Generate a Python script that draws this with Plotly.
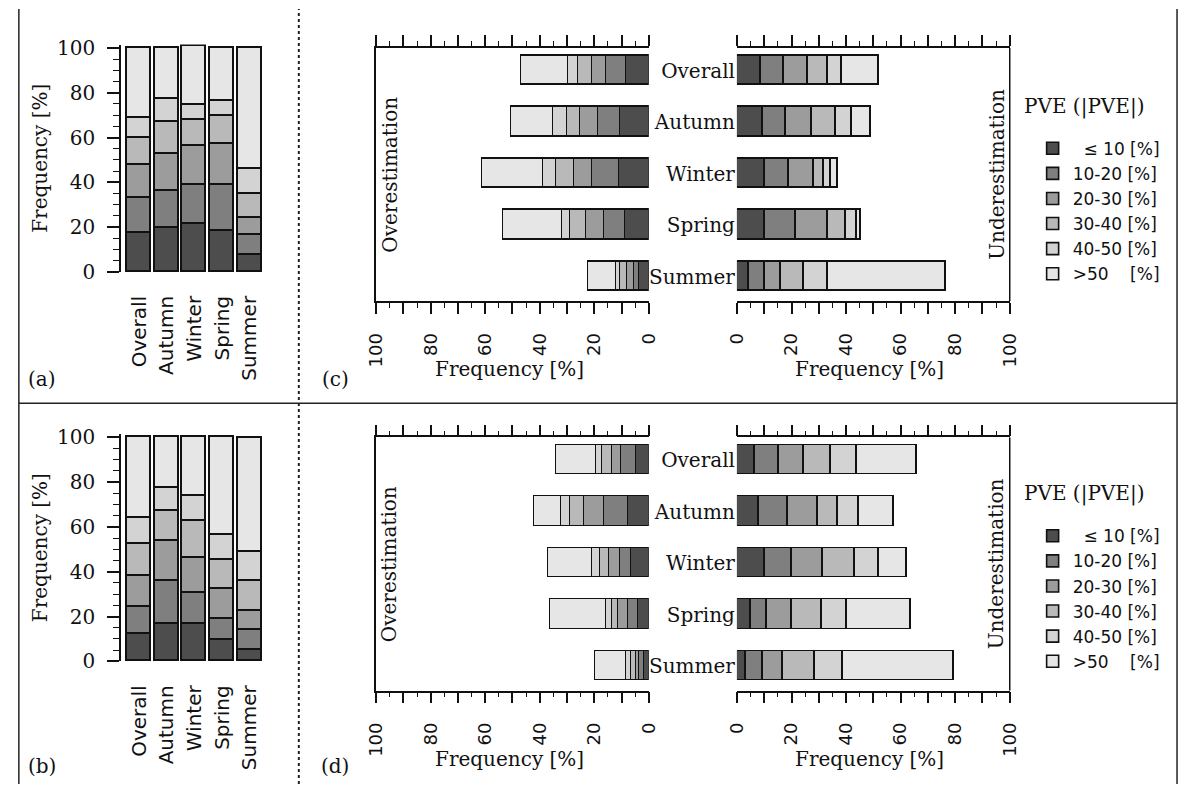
import plotly.graph_objects as go

W, H = 1189, 796
SERIF = "DejaVu Serif"
SANS = "DejaVu Sans"
INK = "#111111"


def fx(p):
    return p / W


def fy(p):
    return 1 - p / H


seasons = ["Overall", "Autumn", "Winter", "Spring", "Summer"]
legend_names = [
    "\u00a0\u00a0≤ 10 [%]",
    "10-20 [%]",
    "20-30 [%]",
    "30-40 [%]",
    "40-50 [%]",
    ">50\u00a0\u00a0\u00a0\u00a0[%]",
]
colors = ["#4d4d4d", "#7f7f7f", "#9c9c9c", "#b9b9b9", "#d3d3d3", "#e6e6e6"]
y_ticks = [0, 20, 40, 60, 80, 100]
x_ticks = [0, 10, 20, 30, 40, 50, 60, 70, 80, 90, 100]
x_ticktext = ["0", "", "20", "", "40", "", "60", "", "80", "", "100"]

# rows = PVE class (<=10, 10-20, 20-30, 30-40, 40-50, >50), cols = seasons
a_freq = [
    [17.4, 20.0, 21.7, 18.3, 7.8],
    [15.6, 16.5, 17.4, 20.8, 8.7],
    [14.8, 16.5, 17.4, 18.3, 7.8],
    [12.2, 14.0, 11.3, 12.2, 10.5],
    [8.7, 10.4, 7.0, 6.9, 11.3],
    [31.3, 22.6, 26.2, 23.5, 53.9],
]
b_freq = [
    [12.2, 16.5, 16.5, 9.6, 5.2],
    [12.1, 19.2, 13.9, 9.5, 8.7],
    [14.0, 18.2, 15.7, 13.1, 8.7],
    [13.9, 13.1, 16.5, 13.0, 13.1],
    [11.9, 10.4, 11.3, 11.3, 13.0],
    [36.2, 22.6, 26.1, 43.5, 51.0],
]
c_over = [
    [8.5, 10.6, 10.8, 8.6, 3.4],
    [7.2, 7.9, 10.0, 7.7, 2.1],
    [5.1, 6.6, 6.5, 6.6, 2.4],
    [5.1, 5.0, 6.6, 5.8, 2.7],
    [3.6, 5.1, 4.9, 3.0, 1.4],
    [17.3, 15.3, 22.5, 21.6, 10.3],
]
c_under = [
    [8.8, 9.6, 10.2, 10.2, 4.4],
    [8.6, 8.5, 8.7, 11.5, 5.8],
    [8.8, 9.3, 9.3, 11.6, 5.8],
    [7.3, 9.0, 3.6, 6.7, 8.7],
    [4.9, 5.7, 2.8, 4.0, 8.7],
    [13.6, 7.0, 2.4, 1.6, 43.3],
]
d_over = [
    [4.8, 7.7, 6.4, 4.1, 1.9],
    [5.2, 8.6, 4.3, 3.6, 1.5],
    [3.6, 7.3, 3.7, 3.7, 1.4],
    [3.6, 5.1, 3.6, 2.2, 1.6],
    [2.1, 3.6, 2.8, 2.2, 2.1],
    [14.7, 9.6, 16.1, 20.3, 11.1],
]
d_under = [
    [6.7, 8.0, 10.2, 5.2, 3.2],
    [8.7, 10.8, 10.1, 5.7, 6.5],
    [9.3, 11.0, 11.3, 9.4, 7.0],
    [9.9, 7.1, 11.7, 10.8, 11.8],
    [9.5, 8.0, 8.7, 9.4, 10.5],
    [21.9, 12.8, 10.2, 23.1, 40.4],
]

fig = go.Figure()

line = dict(color=INK, width=1.6)

# vertical stacked bars (a), (b)
for data, xa, ya, leg in [(a_freq, "x", "y", "legend"), (b_freq, "x2", "y2", "legend2")]:
    for k in range(6):
        fig.add_trace(go.Bar(
            x=seasons, y=data[k], xaxis=xa, yaxis=ya, width=0.86,
            marker=dict(color=colors[k], line=line),
            name=legend_names[k], legend=leg, showlegend=True,
            hoverinfo="skip",
        ))

# horizontal stacked bars (c), (d)
for data, xa, ya in [(c_over, "x3", "y3"), (c_under, "x4", "y4"),
                     (d_over, "x5", "y5"), (d_under, "x6", "y6")]:
    for k in range(6):
        fig.add_trace(go.Bar(
            y=seasons, x=data[k], orientation="h", xaxis=xa, yaxis=ya, width=0.57,
            marker=dict(color=colors[k], line=line),
            showlegend=False, hoverinfo="skip",
        ))


def stack_y(top0):
    # top0 : pixel y of value 0
    return dict(
        domain=[fy(top0), fy(top0 - 101.5 * 2.3)], range=[0, 101.5],
        tickmode="array", tickvals=y_ticks,
        ticks="outside", ticklen=12, tickwidth=1.5, tickcolor=INK,
        minor=dict(dtick=5, ticks="outside", ticklen=6, tickwidth=1.2, tickcolor=INK),
        showline=True, linecolor=INK, linewidth=1.5,
        showgrid=False, zeroline=False,
        tickfont=dict(family=SERIF, size=20, color=INK),
        ticklabelstandoff=8,
        title=dict(text="Frequency [%]", font=dict(family=SERIF, size=20, color=INK), standoff=4),
    )


def stack_x():
    return dict(
        domain=[fx(112), fx(260)], range=[-0.65, 4.6],
        showline=False, ticks="", showgrid=False, zeroline=False,
        tickangle=-90, tickfont=dict(family=SANS, size=20, color=INK),
        ticklabelstandoff=19,
    )


def hx(x0, x1, rng):
    return dict(
        domain=[fx(x0), fx(x1)], range=rng,
        tickmode="array", tickvals=x_ticks, ticktext=x_ticktext,
        ticks="outside", ticklen=11, tickwidth=1.5, tickcolor=INK,
        minor=dict(dtick=5, ticks="outside", ticklen=5, tickwidth=1.2, tickcolor=INK),
        showline=True, mirror="ticks", linecolor=INK, linewidth=1.5,
        showgrid=False, zeroline=False,
        tickangle=-90, tickfont=dict(family=SANS, size=18, color=INK),
        ticklabelstandoff=12,
    )


def hy(top, showline, labels):
    return dict(
        domain=[fy(top + 260), fy(top)], range=[4.475, -0.44],
        showline=showline, linecolor=INK, linewidth=1.5,
        ticks="", showticklabels=labels, showgrid=False, zeroline=False,
        tickfont=dict(family=SERIF, size=20, color=INK),
        ticklabelstandoff=1,
    )


layout = dict(
    width=W, height=H, autosize=False, margin=dict(l=0, r=0, t=0, b=0),
    paper_bgcolor="white", plot_bgcolor="rgba(0,0,0,0)",
    barmode="stack", bargap=0,
    font=dict(family=SERIF, size=20, color=INK),
    xaxis=dict(stack_x(), anchor="y"),
    yaxis=dict(stack_y(270), anchor="x"),
    xaxis2=dict(stack_x(), anchor="y2"),
    yaxis2=dict(stack_y(670), anchor="x2"),
    xaxis3=dict(hx(371.7, 649.3, [100, 0]), anchor="y3"),
    yaxis3=dict(hy(40, True, False), anchor="x3"),
    xaxis4=dict(hx(739, 1016.7, [0, 100]), anchor="y4"),
    yaxis4=dict(hy(40, False, True), anchor="x4"),
    xaxis5=dict(hx(371.7, 649.3, [100, 0]), anchor="y5"),
    yaxis5=dict(hy(440, True, False), anchor="x5"),
    xaxis6=dict(hx(739, 1016.7, [0, 100]), anchor="y6"),
    yaxis6=dict(hy(440, False, True), anchor="x6"),
    legend=dict(x=fx(1040), y=fy(125), xanchor="left", yanchor="top",
                font=dict(family=SANS, size=17, color=INK), bgcolor="rgba(0,0,0,0)",
                traceorder="normal", tracegroupgap=0),
    legend2=dict(x=fx(1040), y=fy(523), xanchor="left", yanchor="top",
                 font=dict(family=SANS, size=17, color=INK), bgcolor="rgba(0,0,0,0)",
                 traceorder="normal", tracegroupgap=0),
)
fig.update_layout(**layout)

# panel frames / separators
shapes = [
    dict(type="line", xref="paper", yref="paper", x0=fx(8), x1=fx(8), y0=0, y1=1,
         line=dict(color="#222", width=1.5)),
    dict(type="line", xref="paper", yref="paper", x0=fx(1187), x1=fx(1187), y0=0, y1=1,
         line=dict(color="#222", width=1.5)),
    dict(type="line", xref="paper", yref="paper", x0=fx(8), x1=fx(1187), y0=fy(405), y1=fy(405),
         line=dict(color="#222", width=1.5)),
    dict(type="line", xref="paper", yref="paper", x0=fx(293), x1=fx(293), y0=0, y1=1,
         line=dict(color="#222", width=2, dash="dot")),
]
for xa, ya in [("x4", "y4"), ("x6", "y6")]:
    shapes.append(dict(type="line", xref=f"{xa} domain", yref=f"{ya} domain",
                       x0=1, x1=1, y0=0, y1=1, line=dict(color=INK, width=1.5)))
fig.update_layout(shapes=shapes)

ann_font = dict(family=SERIF, size=20, color=INK)
annotations = []
for txt, px, py in [("(a)", 32, 380), ("(b)", 32, 778), ("(c)", 330, 380), ("(d)", 330, 778),
                    ("PVE (|PVE|)", 1092, 100), ("PVE (|PVE|)", 1092, 498),
                    ("Frequency [%]", 507, 370), ("Frequency [%]", 874, 370),
                    ("Frequency [%]", 507, 770), ("Frequency [%]", 874, 770)]:
    annotations.append(dict(text=txt, x=fx(px), y=fy(py), xref="paper", yref="paper",
                            showarrow=False, font=ann_font, xanchor="center", yanchor="middle"))
for txt, px, py in [("Overestimation", 385, 170), ("Overestimation", 385, 570),
                    ("Underestimation", 1003, 170), ("Underestimation", 1003, 570)]:
    annotations.append(dict(text=txt, x=fx(px), y=fy(py), xref="paper", yref="paper",
                            showarrow=False, font=ann_font, textangle=-90,
                            xanchor="center", yanchor="middle"))
fig.update_layout(annotations=annotations)

fig.write_html("out.html")
